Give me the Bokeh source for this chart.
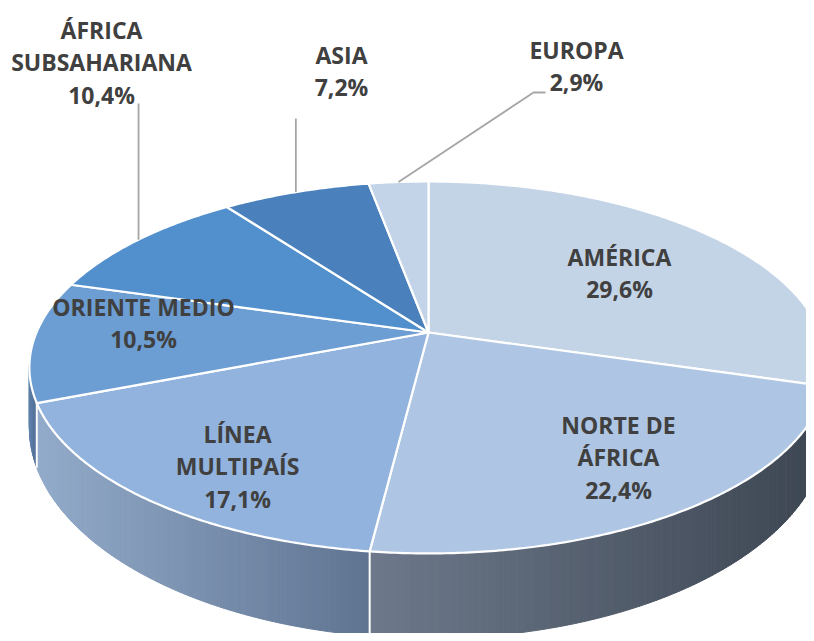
import numpy as np
from bokeh.plotting import figure
from bokeh.models import Range1d
from bokeh.core.properties import value
from bokeh.embed import file_html
from bokeh.resources import INLINE

# ---------------- data ----------------
regions = ["AMÉRICA", "NORTE DE ÁFRICA", "LÍNEA MULTIPAÍS", "ORIENTE MEDIO",
           "ÁFRICA SUBSAHARIANA", "ASIA", "EUROPA"]
shares = [29.6, 22.4, 17.1, 10.5, 10.4, 7.2, 2.9]
label_lines = [["AMÉRICA"], ["NORTE DE", "ÁFRICA"], ["LÍNEA", "MULTIPAÍS"],
               ["ORIENTE MEDIO"], ["ÁFRICA", "SUBSAHARIANA"], ["ASIA"], ["EUROPA"]]

# ---------------- style / layout ----------------
top_colors = ["#c4d4e7", "#aec6e3", "#92b3dd", "#6c9dd3", "#5290cd", "#4a81bc", "#c3d4e9"]
side_left = ["#4a5562", "#6d798b", "#93abca", "#5f80aa", "#4f7fb5", "#42729f", "#a0b2c8"]
side_right = ["#3b4450", "#3c4551", "#5f7491", "#4f6d94", "#406a99", "#385f88", "#8193aa"]
label_x = [619, 618, 237, 143, 101, 341, 576]
label_y0 = [256, 424, 433, 306, 29, 54, 49]
LINE_GAP = 32.5
leader_top = {4: [(None, 103)], 5: [(None, 118)], 6: [(533, 92), (545, 92)]}

CX, CY, A, B, K = 428.0, 332.0, 392.0, 179.4, 0.188
DEPTH = 56.0
W, H = 806, 633


def proj(theta_deg):
    t = np.radians(theta_deg)
    u, v = np.sin(t), np.cos(t)
    den = 1 + K * v
    return CX + A * u / den, CY - B * v / den, den


def hex2rgb(h):
    h = h.lstrip("#")
    return np.array([int(h[i:i + 2], 16) for i in (0, 2, 4)], dtype=float)


def lerp_color(c0, c1, f):
    c = hex2rgb(c0) * (1 - f) + hex2rgb(c1) * f
    return "#%02x%02x%02x" % tuple(int(round(x)) for x in c)


cum = np.concatenate([[0], np.cumsum(shares)])
total = cum[-1]
starts = cum[:-1] / total * 360.0
ends = cum[1:] / total * 360.0

p = figure(width=W, height=H, output_backend="svg", toolbar_location=None,
           x_range=Range1d(0, W), y_range=Range1d(H, 0), min_border=0)
p.axis.visible = False
p.grid.visible = False
p.outline_line_color = None
p.background_fill_color = "white"
p.border_fill_color = "white"

# ---------------- sides (front half) ----------------
sx, sy, sc = [], [], []
for i in range(len(shares)):
    a0, a1 = max(starts[i], 90.0), min(ends[i], 270.0)
    if a1 <= a0:
        continue
    ts = np.linspace(a0, a1, max(2, int((a1 - a0) / 0.5) + 1))
    xs_all, _, _ = proj(ts)
    xmin, xmax = xs_all.min(), xs_all.max()
    for t0, t1 in zip(ts[:-1], ts[1:]):
        x0, y0, d0 = proj(t0)
        x1, y1, d1 = proj(t1)
        b0 = y0 + DEPTH / d0 ** 2
        b1 = y1 + DEPTH / d1 ** 2
        f = ((x0 + x1) / 2 - xmin) / max(xmax - xmin, 1e-6)
        sx.append([x0, x1, x1, x0])
        sy.append([y0, y1, b1, b0])
        sc.append(lerp_color(side_left[i], side_right[i], f))
p.patches(sx, sy, fill_color=sc, line_color=sc, line_width=1)

# side boundary lines
for b in starts[1:]:
    if 90.0 < b < 270.0:
        x0, y0, d0 = proj(b)
        p.line([x0, x0], [y0, y0 + DEPTH / d0 ** 2], line_color="white", line_width=2)

# ---------------- top faces ----------------
tx, ty = [], []
for i in range(len(shares)):
    ts = np.linspace(starts[i], ends[i], max(3, int((ends[i] - starts[i]) / 0.5) + 1))
    xs, ys, _ = proj(ts)
    tx.append([CX] + list(xs))
    ty.append([CY] + list(ys))
p.patches(tx, ty, fill_color=top_colors, line_color="white", line_width=2.2,
          line_join="round")

# ---------------- leader lines ----------------
for i, pts in leader_top.items():
    mx, my, _ = proj((starts[i] + ends[i]) / 2)
    lx, ly = [mx], [my]
    for (px, py) in pts:
        lx.append(mx if px is None else px)
        ly.append(py)
    p.line(lx, ly, line_color="#a6a6a6", line_width=1.8)

# ---------------- labels ----------------
txt, txx, txy = [], [], []
for i in range(len(shares)):
    lines = label_lines[i] + [("%.1f" % shares[i]).replace(".", ",") + "%"]
    for j, s in enumerate(lines):
        txt.append(s)
        txx.append(label_x[i])
        txy.append(label_y0[i] + j * LINE_GAP)
p.text(txx, txy, text=txt, text_align="center", text_baseline="alphabetic",
       text_font=value("Open Sans"), text_font_style="bold", text_font_size="23px",
       text_color="#404040")

open("out.html", "w").write(file_html(p, INLINE))
